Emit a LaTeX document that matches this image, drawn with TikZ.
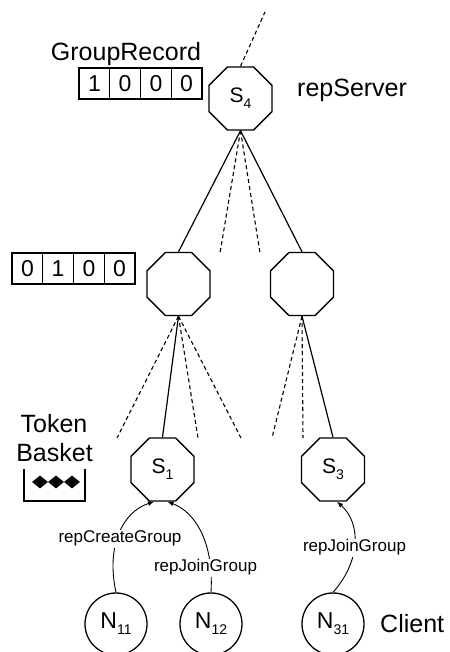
\documentclass[tikz,border=0pt]{standalone}
\usepackage{fontspec}
\setmainfont{Liberation Sans}
\usetikzlibrary{shapes.geometric,arrows.meta}
\newcommand\mysub[1]{\raisebox{-6pt}{\fontsize{14}{14}\selectfont #1}}
\begin{document}
\begin{tikzpicture}[x=1pt,y=1pt,
  oct/.style={draw,line width=1.4pt,regular polygon,regular polygon sides=8,minimum size=68.2pt,inner sep=0pt,font=\fontsize{21}{21}\selectfont},
  client/.style={draw,circle,line width=1.3pt,minimum size=62pt,inner sep=0pt,font=\fontsize{23}{23}\selectfont},
  cell/.style={draw,line width=1.1pt,minimum width=30.75pt,minimum height=31pt,inner sep=0pt,font=\fontsize{23}{23}\selectfont},
  big/.style={font=\fontsize{25}{25}\selectfont,inner sep=0pt},
  lbl/.style={font=\fontsize{17}{17}\selectfont,fill=white,inner sep=1pt},
  link/.style={line width=1.2pt},
  dlink/.style={line width=1.1pt,dash pattern=on 4pt off 3pt},
  req/.style={line width=0.9pt,-{Latex[length=6pt,width=5pt]}},
  token/.style={fill=black,diamond,minimum width=16pt,minimum height=13pt,inner sep=0pt}
]
\useasboundingbox (0,0) rectangle (449,652);

% servers
\node[oct] (s4) at (240.5,553.5) {S\mysub{4}};
\node[oct] (l)  at (178.5,368) {};
\node[oct] (r)  at (302,368) {};
\node[oct] (s1) at (162.5,182.5) {S\mysub{1}};
\node[oct] (s3) at (333,182.5) {S\mysub{3}};

% clients
\node[client] (n11) at (116,28) {N\mysub{11}};
\node[client] (n12) at (211,28) {N\mysub{12}};
\node[client] (n31) at (333,28) {N\mysub{31}};

% texts
\node[big,anchor=base] (gr) at (126,591) {GroupRecord};
\node[big,anchor=base west] (rs) at (297,555) {repServer};
\node[big,anchor=base] (tk) at (54,219) {Token};
\node[big,anchor=base] (bk) at (54.5,190) {Basket};
\node[big,anchor=base west] (cl) at (380,19) {Client};

% group records
\node[cell] (a1) at (94.4,568.5) {1};
\node[cell] (a2) at (125.1,568.5) {0};
\node[cell] (a3) at (155.9,568.5) {0};
\node[cell] (a4) at (186.6,568.5) {0};
\node[cell] (b1) at (27.4,383.5) {0};
\node[cell] (b2) at (58.1,383.5) {1};
\node[cell] (b3) at (88.9,383.5) {0};
\node[cell] (b4) at (119.6,383.5) {0};

% token basket
\draw[line width=1.1pt] (24,183) -- (24,151) -- (85,151) -- (85,183);
\node[token] (t1) at (40,170) {};
\node[token] (t2) at (56,170) {};
\node[token] (t3) at (72,170) {};

% free ends
\coordinate (up) at (265,640);
\coordinate (d1) at (220,399);
\coordinate (d2) at (260,399);
\coordinate (e1) at (117,214);
\coordinate (e2) at (198,214);
\coordinate (e3) at (241,214);
\coordinate (e4) at (272,214);
\coordinate (e5) at (303,214);

% tree links
\draw[dlink] (s4.north) -- (up);
\draw[link] (s4.south) -- (l.north);
\draw[link] (s4.south) -- (r.north);
\draw[dlink] (s4.south) -- (d1);
\draw[dlink] (s4.south) -- (d2);
\draw[dlink] (l.south) -- (e1);
\draw[link] (l.south) -- (s1.north);
\draw[dlink] (l.south) -- (e2);
\draw[dlink] (l.south) -- (e3);
\draw[dlink] (r.south) -- (e4);
\draw[dlink] (r.south) -- (e5);
\draw[link] (r.south) -- (s3.north);

% requests
\coordinate (t11) at ([xshift=-8.5pt]s1.south);
\coordinate (t12) at ([xshift=5pt]s1.south);
\coordinate (t31) at ([xshift=4pt]s3.south);
\draw[req] (n11.north) .. controls (106,105) and (122,140) .. (t11);
\draw[req] (n12.north) .. controls (214,110) and (195,140) .. (t12);
\draw[req] (n31.north) .. controls (360,90) and (362,128) .. (t31);
\node[lbl,anchor=base] (q1) at (120,109) {repCreateGroup};
\node[lbl,anchor=base] (q2) at (205.5,80) {repJoinGroup};
\node[lbl,anchor=base] (q3) at (354.5,100) {repJoinGroup};
\end{tikzpicture}
\end{document}
